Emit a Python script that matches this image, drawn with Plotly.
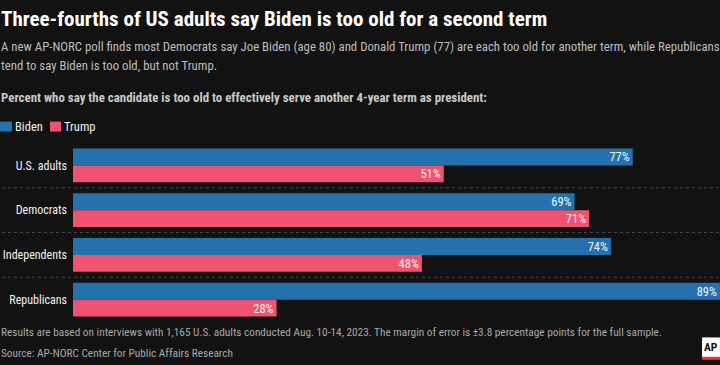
import plotly.graph_objects as go

groups = ["U.S. adults", "Democrats", "Independents", "Republicans"]
biden = [77, 69, 74, 89]
trump = [51, 71, 48, 28]
series_names = ["Biden", "Trump"]

BLUE = "#2471ae"
PINK = "#f0536f"
BG = "#121212"
FONT = "Roboto Condensed, Open Sans Condensed, sans-serif"

W, H = 720, 365
L, R, T, B = 73, 0, 142.5, 42.5
PW = W - L - R
PH = H - T - B


def px(x):
    return (x - L) / PW


def py(y):
    return (H - B - y) / PH


fig = go.Figure()
for name, vals, col in [(series_names[0], biden, BLUE), (series_names[1], trump, PINK)]:
    fig.add_trace(go.Bar(
        y=groups, x=vals, name=name, orientation="h",
        marker=dict(color=col, line=dict(width=0)),
        text=[f"{v}%" for v in vals], textposition="inside",
        insidetextanchor="end", constraintext="none",
        textfont=dict(family=FONT, size=12.5, color="#f4f4f4"),
        hoverinfo="skip",
    ))

annotations = []
shapes = []


def add_text(text, x, y, size, color, bold=False, xanchor="left", yanchor="middle"):
    if bold:
        text = f"<b>{text}</b>"
    annotations.append(dict(
        text=text, x=px(x), y=py(y), xref="paper", yref="paper",
        xanchor=xanchor, yanchor=yanchor, showarrow=False,
        font=dict(family=FONT, size=size, color=color), align="left",
    ))


add_text("Three-fourths of US adults say Biden is too old for a second term", -1, 18, 21, "#ffffff", bold=True)
add_text("A new AP-NORC poll finds most Democrats say Joe Biden (age 80) and Donald Trump (77) are each too old for another term, while Republicans", -1, 45, 12.8, "#bdbdbd")
add_text("tend to say Biden is too old, but not Trump.", -1, 65, 12.8, "#bdbdbd")
add_text("Percent who say the candidate is too old to effectively serve another 4-year term as president:", -1, 97, 12.9, "#c8c8c8", bold=True)

# legend
shapes.append(dict(type="rect", xref="paper", yref="paper", x0=px(0), x1=px(12), y0=py(131), y1=py(121),
                   fillcolor=BLUE, line=dict(width=0)))
add_text("Biden", 13, 126, 12.5, "#f0f0f0")
shapes.append(dict(type="rect", xref="paper", yref="paper", x0=px(50), x1=px(61), y0=py(131), y1=py(121),
                   fillcolor=PINK, line=dict(width=0)))
add_text("Trump", 62, 126, 12.5, "#f0f0f0")

# separators
for yv in [0.5, 1.5, 2.5]:
    shapes.append(dict(type="line", xref="paper", yref="y", x0=px(2), x1=1, y0=yv, y1=yv,
                       line=dict(color="#444444", width=1, dash="dot"), layer="below"))

add_text("Results are based on interviews with 1,165 U.S. adults conducted Aug. 10-14, 2023. The margin of error is \u00b13.8 percentage points for the full sample.", -1, 333, 11.3, "#a8a8a8")
add_text("Source: AP-NORC Center for Public Affairs Research", -1, 354, 11.3, "#a8a8a8")

# AP logo
shapes.append(dict(type="rect", xref="paper", yref="paper", x0=px(702), x1=px(720), y0=py(360), y1=py(338),
                   fillcolor="#ffffff", line=dict(width=0)))
shapes.append(dict(type="rect", xref="paper", yref="paper", x0=px(702), x1=px(720), y0=py(360), y1=py(357.5),
                   fillcolor="#e4343f", line=dict(width=0)))
annotations.append(dict(text="<b>AP</b>", x=px(711), y=py(348), xref="paper", yref="paper",
                        xanchor="center", yanchor="middle", showarrow=False,
                        font=dict(family="Roboto Condensed, sans-serif", size=11.5, color="#111111")))

fig.update_layout(
    width=W, height=H,
    margin=dict(l=L, r=R, t=T, b=B, pad=0),
    paper_bgcolor=BG, plot_bgcolor=BG,
    barmode="group", bargap=0.244, bargroupgap=0,
    showlegend=False,
    xaxis=dict(range=[0, 89], visible=False, fixedrange=True, automargin=False),
    yaxis=dict(type="category", categoryorder="array", categoryarray=groups,
               range=[3.5, -0.5], showgrid=False, zeroline=False, showline=False,
               ticks="", ticklabelstandoff=5, automargin=False, fixedrange=True,
               tickfont=dict(family=FONT, size=12, color="#f0f0f0")),
    annotations=annotations, shapes=shapes,
)

fig.write_html("out.html", config={"displayModeBar": False},
               post_script="document.body.style.margin='0';")
